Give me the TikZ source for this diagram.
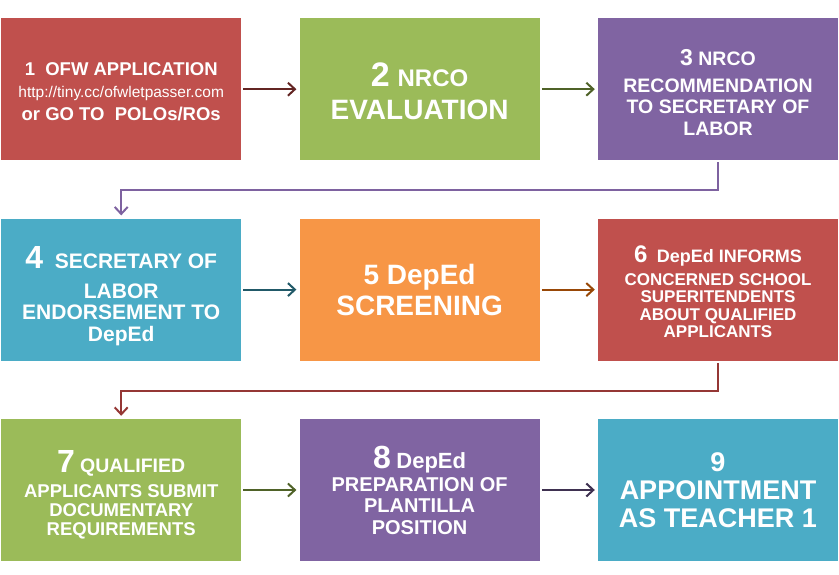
\documentclass[tikz,border=0pt]{standalone}
\usepackage{fontspec}
\setmainfont{Liberation Sans}
\usetikzlibrary{positioning, arrows.meta}
\definecolor{redfill}{HTML}{C0504D}
\definecolor{greenfill}{HTML}{9BBB59}
\definecolor{purplefill}{HTML}{8064A2}
\definecolor{bluefill}{HTML}{4BACC6}
\definecolor{orangefill}{HTML}{F79646}
\definecolor{redline}{HTML}{632523}
\definecolor{greenline}{HTML}{4F6228}
\definecolor{purpleline}{HTML}{7E62A0}
\definecolor{blueline}{HTML}{215968}
\definecolor{orangeline}{HTML}{984807}
\definecolor{brickline}{HTML}{953735}
\definecolor{plumline}{HTML}{3F3151}
\newcommand{\fsz}[2]{\fontsize{#1}{#2}\selectfont}
\tikzset{
  stepbox/.style={
    rectangle,
    minimum width=240pt,
    minimum height=142pt,
    inner sep=0pt,
    align=center,
    text=white
  },
  redb/.style={stepbox, fill=redfill},
  greenb/.style={stepbox, fill=greenfill},
  purpleb/.style={stepbox, fill=purplefill},
  blueb/.style={stepbox, fill=bluefill},
  orangeb/.style={stepbox, fill=orangefill},
  arr/.style={-{Straight Barb[length=7pt, width=13pt]}, line width=2pt, shorten <=2pt, shorten >=3pt}
}

\begin{document}
\begin{tikzpicture}[node distance=58pt and 58pt]
  \useasboundingbox (0,0) rectangle (839pt,-575pt);

  % row 1
  \node[redb, anchor=north west, font=\bfseries\fsz{18.5}{22.5}] (b1) at (1pt,-18pt) {%
    \rule{0pt}{17pt}1\ \ OFW APPLICATION\\
    {\mdseries\fsz{15.5}{22.5}http://tiny.cc/ofwletpasser.com}\\
    or GO TO\ \ POLOs/ROs};
  \node[greenb, right=of b1, font=\bfseries\fsz{28}{33}] (b2) {%
    \rule{0pt}{28pt}{\fsz{34}{33}2}\ {\fsz{24}{33}NRCO}\\EVALUATION};
  \node[purpleb, right=of b2, font=\bfseries\fsz{19.5}{21.5}] (b3) {%
    \rule{0pt}{22.5pt}{\fsz{23}{21.5}3} NRCO\\[5pt]
    RECOMMENDATION\\TO SECRETARY OF\\LABOR};

  % row 2
  \node[blueb, below=of b1, font=\bfseries\fsz{21}{21.5}] (b4) {%
    \rule{0pt}{35pt}{\fsz{32}{21.5}4}\ \ SECRETARY OF\\[8pt]
    LABOR\\ENDORSEMENT TO\\DepEd};
  \node[orangeb, right=of b4, font=\bfseries\fsz{28}{31}] (b5) {%
    5 DepEd\\SCREENING};
  \node[redb, right=of b5, font=\bfseries\fsz{17}{17.5}] (b6) {%
    \rule{0pt}{21pt}{\fsz{24}{17.5}6}\ \ {\fsz{18}{17.5}DepEd INFORMS}\\[5pt]
    CONCERNED SCHOOL\\SUPERITENDENTS\\ABOUT QUALIFIED\\APPLICANTS};

  % row 3
  \node[greenb, below=of b4, font=\bfseries\fsz{18.5}{19}] (b7) {%
    \rule{0pt}{31pt}{\fsz{32}{19}7} {\fsz{19.5}{19}QUALIFIED}\\[6pt]
    APPLICANTS SUBMIT\\DOCUMENTARY\\REQUIREMENTS};
  \node[purpleb, right=of b7, font=\bfseries\fsz{20}{21.5}] (b8) {%
    {\fsz{32}{21.5}8} {\fsz{22}{21.5}DepEd}\\[1.5pt]
    PREPARATION OF\\PLANTILLA\\POSITION};
  \node[blueb, right=of b8, font=\bfseries\fsz{27}{28}] (b9) {%
    9\\APPOINTMENT\\AS TEACHER 1};

  \draw[arr, redline] (b1) -- (b2);
  \draw[arr, greenline] (b2) -- (b3);
  \draw[arr, purpleline] (b3.south) -- ++(0,-30pt) -| (b4.north);
  \draw[arr, blueline] (b4) -- (b5);
  \draw[arr, orangeline] (b5) -- (b6);
  \draw[arr, brickline] (b6.south) -- ++(0,-30pt) -| (b7.north);
  \draw[arr, greenline] (b7) -- (b8);
  \draw[arr, plumline] (b8) -- (b9);

\end{tikzpicture}
\end{document}
